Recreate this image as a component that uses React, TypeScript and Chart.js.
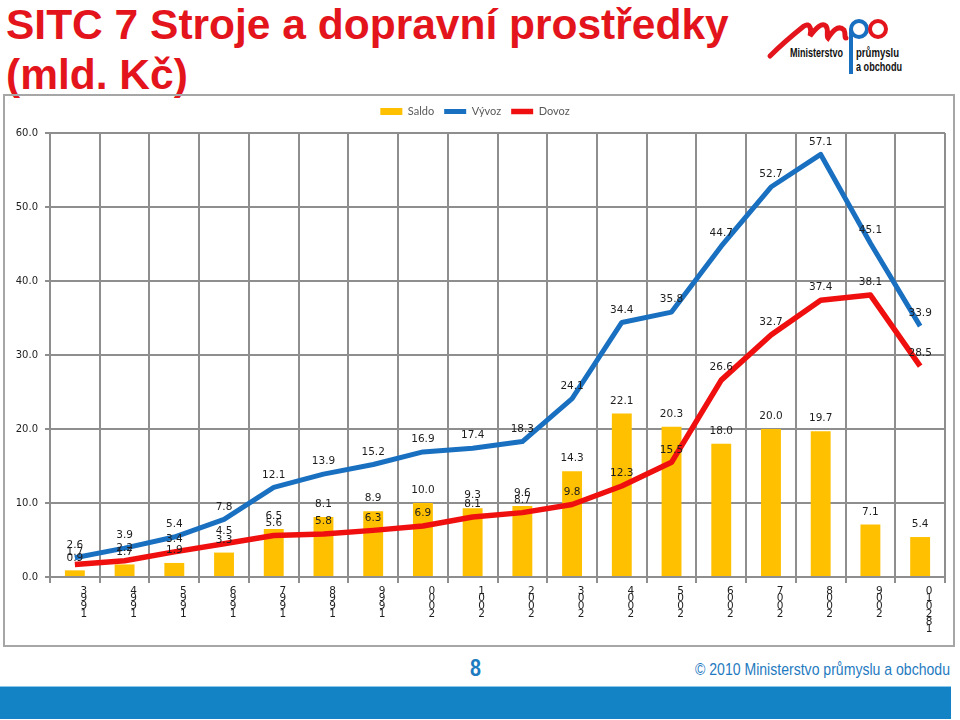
import React, { useEffect, useRef } from "react";
import { Chart, registerables } from "chart.js";

Chart.register(...registerables);

// ---- data ----
const categories = [
  "1993", "1994", "1995", "1996", "1997", "1998", "1999", "2000", "2001",
  "2002", "2003", "2004", "2005", "2006", "2007", "2008", "2009", "1-8 2010",
];
const saldo = [0.9, 1.7, 1.9, 3.3, 6.5, 8.1, 8.9, 10.0, 9.3, 9.6, 14.3, 22.1, 20.3, 18.0, 20.0, 19.7, 7.1, 5.4];
const vyvoz = [2.6, 3.9, 5.4, 7.8, 12.1, 13.9, 15.2, 16.9, 17.4, 18.3, 24.1, 34.4, 35.8, 44.7, 52.7, 57.1, 45.1, 33.9];
const dovoz = [1.7, 2.2, 3.4, 4.5, 5.6, 5.8, 6.3, 6.9, 8.1, 8.7, 9.8, 12.3, 15.5, 26.6, 32.7, 37.4, 38.1, 28.5];
const seriesNames = ["Saldo", "Vývoz", "Dovoz"];
const yMin = 0;
const yMax = 60;
const yStep = 10;

const GRID = "#8e8e8e";

const valueLabels = {
  id: "valueLabels",
  afterDatasetsDraw(chart: any) {
    const ctx = chart.ctx;
    ctx.save();
    ctx.font = '10.5px "DejaVu Sans"';
    ctx.fillStyle = "#1e1e1e";
    ctx.textAlign = "center";
    ctx.textBaseline = "middle";
    chart.data.datasets.forEach((ds: any, i: number) => {
      const meta = chart.getDatasetMeta(i);
      meta.data.forEach((el: any, j: number) => {
        const v = ds.data[j] as number;
        ctx.fillText(v.toFixed(1), el.x, el.y - 12.5);
      });
    });
    ctx.restore();
  },
};

function ChartBox() {
  const ref = useRef<HTMLCanvasElement | null>(null);
  useEffect(() => {
    if (!ref.current) return;
    const chart = new Chart(ref.current, {
      type: "bar",
      data: {
        labels: categories,
        datasets: [
          {
            type: "bar",
            label: seriesNames[0],
            data: saldo,
            backgroundColor: "#ffc000",
            borderWidth: 0,
            barPercentage: 0.4,
            categoryPercentage: 1,
            order: 2,
            pointStyle: "rect",
          } as any,
          {
            type: "line",
            label: seriesNames[1],
            data: vyvoz,
            borderColor: "#1a70c0",
            backgroundColor: "#1a70c0",
            borderWidth: 5,
            pointRadius: 0,
            tension: 0,
            borderJoinStyle: "round",
            order: 1,
            pointStyle: "line",
          } as any,
          {
            type: "line",
            label: seriesNames[2],
            data: dovoz,
            borderColor: "#f00f0f",
            backgroundColor: "#f00f0f",
            borderWidth: 5.5,
            pointRadius: 0,
            tension: 0,
            borderJoinStyle: "round",
            order: 0,
            pointStyle: "line",
          } as any,
        ],
      },
      options: {
        animation: false,
        responsive: false,
        devicePixelRatio: 1,
        layout: { padding: { top: 0, left: 0, right: 8, bottom: 0 } },
        plugins: {
          tooltip: { enabled: false },
          title: {
            display: true,
            text: "",
            weight: 500,
            padding: 0,
            font: { size: 5, lineHeight: 1.2 },
          } as any,
          legend: {
            display: true,
            position: "top",
            labels: {
              usePointStyle: true,
              pointStyleWidth: 22,
              boxHeight: 7,
              padding: 10,
              color: "#595959",
              font: { family: "Lato", size: 11 },
              sort: (a: any, b: any) => a.datasetIndex - b.datasetIndex,
            },
          },
        },
        scales: {
          x: {
            offset: true,
            grid: {
              offset: true,
              color: GRID,
              lineWidth: 2,
              tickLength: 6,
              drawTicks: true,
            },
            border: { color: GRID, width: 2 },
            ticks: {
              autoSkip: false,
              maxRotation: 0,
              minRotation: 0,
              padding: 4,
              labelOffset: 9,
              color: "#1e1e1e",
              font: { family: "DejaVu Sans", size: 10.5, lineHeight: 0.74 },
              callback: (_v: any, i: number) =>
                categories[i].replace(/\D/g, "").split("").reverse(),
            },
            afterFit: (s: any) => {
              s.height = 68;
            },
          },
          y: {
            min: yMin,
            max: yMax,
            grid: { color: GRID, lineWidth: 2, tickLength: 5 },
            border: { color: GRID, width: 2 },
            ticks: {
              stepSize: yStep,
              padding: 7,
              color: "#1e1e1e",
              font: { family: "DejaVu Sans", size: 10 },
              callback: (v: any) => Number(v).toFixed(1),
            },
            afterFit: (s: any) => {
              s.width = 45;
            },
          },
        },
      },
      plugins: [valueLabels],
    });
    return () => chart.destroy();
  }, []);
  return <canvas ref={ref} width={948} height={549} style={{ display: "block", width: 948, height: 549 }} />;
}

function Logo() {
  const t = { fontFamily: "Liberation Sans", fontWeight: "bold" as const, fontSize: 12, fill: "#111", lengthAdjust: "spacingAndGlyphs" as const };
  return (
    <svg width={160} height={85} style={{ position: "absolute", left: 760, top: 0 }}>
      <path
        d="M 10 56 C 22 44, 34 34, 44 26 C 50 22, 52 30, 50 36 C 56 28, 62 22, 66 26 C 69 30, 66 36, 68 38 C 72 32, 78 24, 84 30 C 86 34, 84 38, 86 38"
        stroke="#e3141b"
        strokeWidth={5}
        fill="none"
        strokeLinecap="round"
      />
      <circle cx={99} cy={29} r={8} stroke="#1a70c0" strokeWidth={4} fill="none" />
      <line x1={91} y1={29} x2={91} y2={74} stroke="#1a70c0" strokeWidth={4} />
      <circle cx={118} cy={29} r={8} stroke="#e3141b" strokeWidth={4} fill="none" />
      <text x={30} y={57} textLength={53} {...t}>Ministerstvo</text>
      <text x={96} y={57} textLength={43} {...t}>průmyslu</text>
      <text x={96} y={71} textLength={46} {...t}>a obchodu</text>
    </svg>
  );
}

function Footer() {
  return (
    <svg width={960} height={40} style={{ position: "absolute", left: 0, top: 648 }}>
      <text x={470} y={28} textLength={11} lengthAdjust="spacingAndGlyphs" fontFamily="Liberation Sans" fontWeight="bold" fontSize={24} fill="#1f7bbf">
        8
      </text>
      <text x={695} y={27} textLength={255} lengthAdjust="spacingAndGlyphs" fontFamily="Liberation Sans" fontSize={17} fill="#1f7bbf">
        © 2010 Ministerstvo průmyslu a obchodu
      </text>
    </svg>
  );
}

export default function App() {
  return (
    <div
      style={{
        position: "absolute",
        left: 0,
        top: 0,
        width: 960,
        height: 720,
        background: "#fff",
        overflow: "hidden",
      }}
    >
      <div
        style={{
          position: "absolute",
          left: 6,
          top: 0,
          fontFamily: "Liberation Sans",
          fontWeight: "bold",
          fontSize: 42.5,
          lineHeight: "50px",
          color: "#e3141b",
          whiteSpace: "nowrap",
        }}
      >
        SITC 7 Stroje a dopravní prostředky
        <br />
        (mld. Kč)
      </div>
      <Logo />
      <div
        style={{
          position: "absolute",
          left: 3,
          top: 94,
          width: 948,
          height: 549,
          border: "2px solid #a6a6a6",
        }}
      >
        <ChartBox />
      </div>
      <Footer />
      <div
        style={{
          position: "absolute",
          left: 0,
          top: 686,
          width: 951,
          height: 32,
          background: "#1483c5",
          borderTop: "1px solid #8cc6ea",
        }}
      />
    </div>
  );
}
